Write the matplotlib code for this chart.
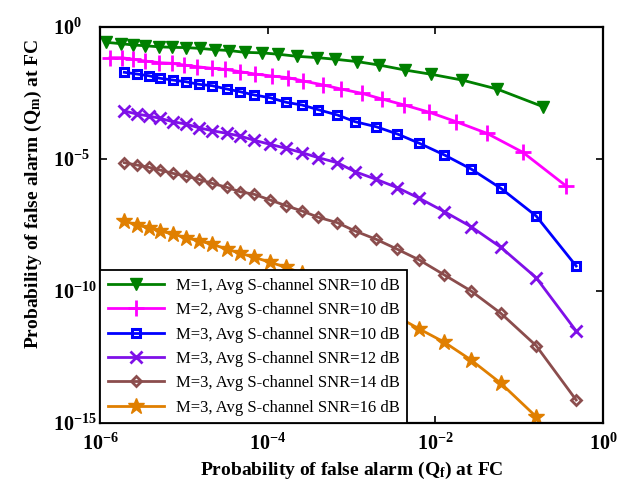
import numpy as np
import matplotlib
matplotlib.use("Agg")
import matplotlib.pyplot as plt
from matplotlib.ticker import FixedLocator, FuncFormatter, NullLocator

plt.rcParams['font.family'] = ['Liberation Serif', 'DejaVu Serif']
plt.rcParams['mathtext.fontset'] = 'custom'
plt.rcParams['mathtext.rm'] = 'Liberation Serif'
plt.rcParams['mathtext.it'] = 'Liberation Serif:italic'
plt.rcParams['mathtext.bf'] = 'Liberation Serif:bold'

# log10 of Qf (x) and Qm (y) for each curve
qf_log_m1 = [-5.928, -5.753, -5.606, -5.463, -5.296, -5.141, -4.974, -4.807, -4.628, -4.461,
             -4.270, -4.067, -3.876, -3.649, -3.410, -3.196, -2.933, -2.671, -2.360, -2.050,
             -1.680, -1.263, -0.714]
qm_log_m1 = [-0.58, -0.63, -0.68, -0.71, -0.75, -0.77, -0.78, -0.81, -0.86, -0.89,
             -0.96, -0.98, -1.03, -1.11, -1.16, -1.22, -1.31, -1.44, -1.63, -1.79,
             -2.01, -2.35, -3.02]

qf_log_m2 = [-5.881, -5.741, -5.603, -5.463, -5.292, -5.144, -4.998, -4.839, -4.667, -4.508,
             -4.329, -4.150, -3.951, -3.753, -3.574, -3.335, -3.128, -2.877, -2.638, -2.369,
             -2.070, -1.752, -1.385, -0.956, -0.439]
qm_log_m2 = [-1.163, -1.163, -1.223, -1.288, -1.352, -1.375, -1.439, -1.504, -1.564, -1.602,
             -1.693, -1.780, -1.856, -1.920, -2.045, -2.197, -2.348, -2.511, -2.727, -2.955,
             -3.231, -3.587, -4.027, -4.746, -6.023]

qf_log_m3 = [-5.710, -5.562, -5.419, -5.284, -5.132, -4.977, -4.822, -4.663, -4.488, -4.329,
             -4.159, -3.971, -3.780, -3.589, -3.395, -3.168, -2.957, -2.706, -2.452, -2.190,
             -1.891, -1.573, -1.218, -0.797, -0.320]
qm_log_snr10 = [-1.716, -1.780, -1.845, -1.943, -2.008, -2.072, -2.170, -2.223, -2.348, -2.451,
                -2.576, -2.678, -2.852, -2.955, -3.133, -3.333, -3.587, -3.777, -4.053, -4.405,
                -4.848, -5.379, -6.110, -7.159, -9.053]
qm_log_snr12 = [-3.182, -3.295, -3.371, -3.458, -3.587, -3.674, -3.814, -3.928, -4.027, -4.129,
                -4.292, -4.443, -4.595, -4.761, -4.951, -5.140, -5.481, -5.769, -6.087, -6.489,
                -6.996, -7.564, -8.345, -9.496, -11.515]
qm_log_snr14 = [-5.140, -5.227, -5.314, -5.417, -5.542, -5.644, -5.769, -5.920, -6.072, -6.239,
                -6.337, -6.553, -6.769, -6.970, -7.208, -7.413, -7.727, -8.042, -8.420, -8.826,
                -9.394, -10.000, -10.845, -12.072, -14.129]
qm_log_snr16 = [-7.348, -7.500, -7.602, -7.727, -7.841, -7.981, -8.095, -8.231, -8.409, -8.572,
                -8.723, -8.913, -9.102, -9.330, -9.602, -9.833, -10.189, -10.549, -10.977, -11.439,
                -11.943, -12.614, -13.496, -14.761]

labels = ['M=1, Avg S-channel SNR=10 dB',
          'M=2, Avg S-channel SNR=10 dB',
          'M=3, Avg S-channel SNR=10 dB',
          'M=3, Avg S-channel SNR=12 dB',
          'M=3, Avg S-channel SNR=14 dB',
          'M=3, Avg S-channel SNR=16 dB']

x_ticks = [-6, -4, -2, 0]
y_ticks = [0, -5, -10, -15]

series = [
    (qf_log_m1, qm_log_m1, '#008000', 'v', dict(markerfacecolor='#008000', markersize=9)),
    (qf_log_m2, qm_log_m2, '#FF00FF', '+', dict(markersize=11, markeredgewidth=2.0)),
    (qf_log_m3, qm_log_snr10, '#0000FF', 's', dict(markerfacecolor='none', markersize=5.5, markeredgewidth=2.2)),
    (qf_log_m3, qm_log_snr12, '#7F10E8', 'x', dict(markersize=8, markeredgewidth=2.0)),
    (qf_log_m3[:len(qm_log_snr14)], qm_log_snr14, '#8B4D4D', 'D', dict(markerfacecolor='none', markersize=5.5, markeredgewidth=2.0)),
    (qf_log_m3[:len(qm_log_snr16)], qm_log_snr16, '#E07F00', '*', dict(markerfacecolor='#E07F00', markersize=12)),
]

fig = plt.figure(figsize=(6.33, 4.92), dpi=100)
ax = fig.add_axes([0.158, 0.1402, 0.7946, 0.8049])

for (xl, yl, col, mk, kw), lab in zip(series, labels):
    x = 10.0 ** np.array(xl)
    y = 10.0 ** np.array(yl)
    ax.plot(x, y, color=col, marker=mk, linewidth=2.0, markeredgecolor=col, label=lab, **kw)

ax.set_xscale('log')
ax.set_yscale('log')
ax.set_xlim(1e-6, 1e0)
ax.set_ylim(1e-15, 1e0)

ax.xaxis.set_major_locator(FixedLocator([10.0 ** t for t in x_ticks]))
ax.yaxis.set_major_locator(FixedLocator([10.0 ** t for t in y_ticks]))
ax.xaxis.set_minor_locator(NullLocator())
ax.yaxis.set_minor_locator(NullLocator())
fmt = FuncFormatter(lambda v, p: r'$\mathbf{10^{%d}}$' % int(round(np.log10(v))))
ax.xaxis.set_major_formatter(fmt)
ax.yaxis.set_major_formatter(fmt)
ax.tick_params(axis='both', which='major', direction='in', top=True, right=True,
               length=5, width=1.2, labelsize=14.5)
ax.tick_params(axis='x', pad=7.5)
ax.tick_params(axis='y', pad=34)
fig.canvas.draw()
for lbl in ax.get_yticklabels():
    lbl.set_horizontalalignment('left')

for s in ax.spines.values():
    s.set_linewidth(1.6)

ax.set_xlabel(r'Probability of false alarm (Q$_\mathbf{f}$) at FC', fontsize=14,
              fontweight='bold', labelpad=4)
ax.set_ylabel(r'Probability of false alarm (Q$_\mathbf{m}$) at FC', fontsize=14,
              fontweight='bold')
ax.yaxis.set_label_coords(-0.112, 0.578)

leg = ax.legend(loc='lower left', bbox_to_anchor=(0, 0), borderaxespad=0,
                fontsize=12, fancybox=False, framealpha=1, edgecolor='black',
                handlelength=3.4, labelspacing=0.5, borderpad=0.45, handletextpad=0.7)
leg.get_frame().set_linewidth(1.3)

fig.savefig('out.png', dpi=100)
